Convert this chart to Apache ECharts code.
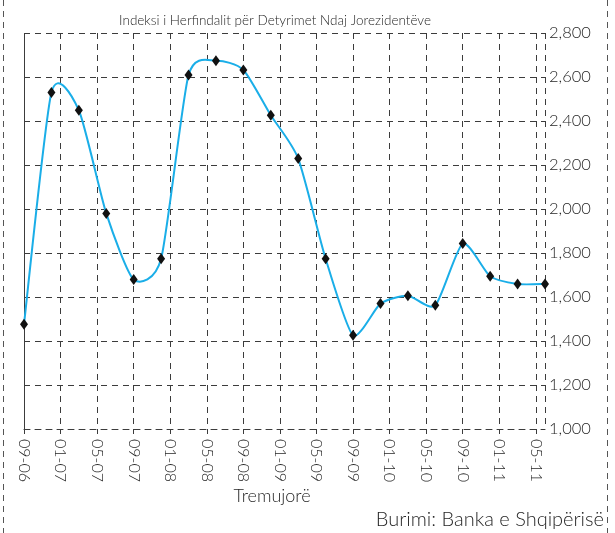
<!DOCTYPE html>
<html>
<head>
<meta charset="utf-8">
<script src="https://cdn.jsdelivr.net/npm/echarts@6/dist/echarts.min.js"></script>
<style>html,body{margin:0;padding:0;background:#fff}#c{width:615px;height:533px}</style>
</head>
<body>
<div id="c"></div>
<script>
// month offsets from 09-06 for each quarterly observation
var monthIndex = [0, 3, 6, 9, 12, 15, 18, 21, 24, 27, 30, 33, 36, 39, 42, 45, 48, 51, 54, 57];
var herfindahl = [1476, 2530, 2449, 1980, 1680, 1774, 2609, 2674, 2632, 2426, 2229, 1774, 1426, 1570, 1606, 1562, 1843, 1694, 1659, 1659];
var xTickLabels = ['09-06','01-07','05-07','09-07','01-08','05-08','09-08','01-09','05-09','09-09','01-10','05-10','09-10','01-11','05-11'];
var yTickLabels = ['1,000','1,200','1,400','1,600','1,800','2,000','2,200','2,400','2,600','2,800'];

var titleText = 'Indeksi i Herfindalit për Detyrimet Ndaj Jorezidentëve';
var xAxisName = 'Tremujorë';
var sourceText = 'Burimi: Banka e Shqipërisë';

var FONT = 'Lato';
var FW = 300;
var TXT = '#262626';
var GRID = '#3c3c3c';
var TENSION = 0.11;

var chart = echarts.init(document.getElementById('c'), null, {renderer: 'canvas'});
var pts = monthIndex.map(function (m, i) { return [m, herfindahl[i]]; });

function renderSegment(params, api) {
  var i = params.dataIndex;
  var n = monthIndex.length;
  if (i >= n - 1) return null;
  function P(k) {
    k = Math.max(0, Math.min(n - 1, k));
    return api.coord([monthIndex[k], herfindahl[k]]);
  }
  var p0 = P(i - 1), p1 = P(i), p2 = P(i + 1), p3 = P(i + 2);
  return {
    type: 'bezierCurve',
    shape: {
      x1: p1[0], y1: p1[1], x2: p2[0], y2: p2[1],
      cpx1: p1[0] + (p2[0] - p0[0]) * TENSION, cpy1: p1[1] + (p2[1] - p0[1]) * TENSION,
      cpx2: p2[0] - (p3[0] - p1[0]) * TENSION, cpy2: p2[1] - (p3[1] - p1[1]) * TENSION
    },
    style: {stroke: '#1aaee8', lineWidth: 2, fill: null}
  };
}

chart.setOption({
  animation: false,
  backgroundColor: '#fff',
  title: [
    {text: titleText, left: 275, top: 14, textAlign: 'center',
     textStyle: {fontFamily: FONT, fontSize: 13.5, fontWeight: FW, color: TXT}, padding: 0},
    {text: xAxisName, left: 272, top: 487, textAlign: 'center',
     textStyle: {fontFamily: FONT, fontSize: 18, fontWeight: FW, color: TXT}, padding: 0},
    {text: sourceText, right: 11, top: 510,
     textStyle: {fontFamily: FONT, fontSize: 20, fontWeight: FW, color: TXT}, padding: 0}
  ],
  graphic: [
    {type: 'line', shape: {x1: 3.5, y1: 0, x2: 3.5, y2: 533}, style: {stroke: '#555', lineWidth: 1, lineDash: [6, 5]}},
    {type: 'line', shape: {x1: 607.5, y1: 0, x2: 607.5, y2: 533}, style: {stroke: '#555', lineWidth: 1, lineDash: [6, 5]}}
  ],
  grid: {left: 24, right: 70, top: 33, bottom: 104, containLabel: false},
  xAxis: {
    type: 'value', min: 0, max: 57, interval: 4,
    axisLine: {show: true, lineStyle: {color: GRID, type: [6, 5], width: 1}},
    axisTick: {show: true, length: 5, lineStyle: {color: GRID}},
    splitLine: {show: true, lineStyle: {color: GRID, type: [6, 5], width: 1}},
    axisLabel: {
      rotate: -90, margin: 10, fontFamily: FONT, fontSize: 16, fontWeight: FW, color: TXT,
      showMaxLabel: false,
      formatter: function (v) { var k = v / 4; return (k === Math.floor(k) && xTickLabels[k]) ? xTickLabels[k] : ''; }
    }
  },
  yAxis: {
    type: 'value', position: 'right', min: 1000, max: 2800, interval: 200,
    axisLine: {show: true, lineStyle: {color: GRID, type: [6, 5], width: 1}},
    axisTick: {show: true, length: 4, lineStyle: {color: GRID}},
    splitLine: {show: true, lineStyle: {color: GRID, type: [6, 5], width: 1}},
    axisLabel: {
      margin: 4, fontFamily: FONT, fontSize: 16.5, fontWeight: FW, color: TXT,
      formatter: function (v) { return yTickLabels[Math.round((v - 1000) / 200)]; }
    }
  },
  series: [
    {
      type: 'custom',
      data: pts,
      renderItem: renderSegment,
      encode: {x: 0, y: 1},
      z: 3,
      silent: true
    },
    {
      type: 'scatter',
      data: pts,
      symbol: 'diamond',
      symbolSize: [8, 11],
      itemStyle: {color: '#111', opacity: 1},
      z: 5
    }
  ]
});
</script>
</body>
</html>
